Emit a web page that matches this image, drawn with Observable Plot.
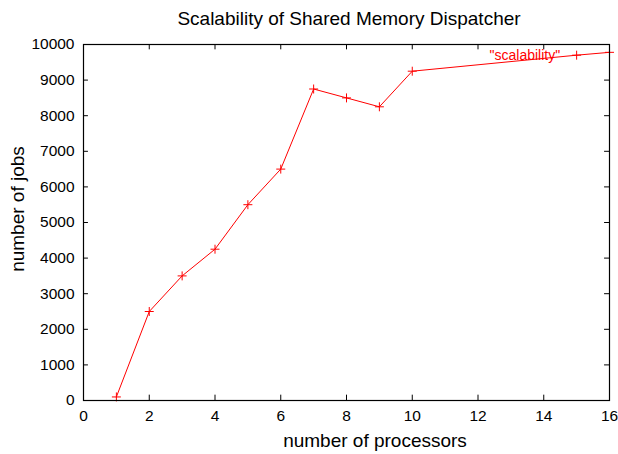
<!DOCTYPE html>
<html><head><meta charset="utf-8">
<script src="https://cdn.jsdelivr.net/npm/d3@7"></script>
<script src="https://cdn.jsdelivr.net/npm/@observablehq/plot@0.6"></script>
<style>
body{margin:0;background:#fff;}
#chart{position:relative;width:618px;height:454px;font-family:"Liberation Sans",Arial,sans-serif;}
</style>
</head><body><div id="chart"></div>
<script>
const processors = [1, 2, 3, 4, 5, 6, 7, 8, 9, 10, 15, 16];
const jobs = [100, 2500, 3500, 4250, 5500, 6500, 8750, 8500, 8250, 9250, 9700, 9780];
const xTicks = [0, 2, 4, 6, 8, 10, 12, 14, 16];
const yTicks = [0, 1000, 2000, 3000, 4000, 5000, 6000, 7000, 8000, 9000, 10000];
const title = "Scalability of Shared Memory Dispatcher";
const xLabel = "number of processors";
const yLabel = "number of jobs";
const seriesName = "\"scalability\"";

const data = processors.map((p, i) => ({p, j: jobs[i]}));
const red = "#ff0000";

const plot = Plot.plot({
  width: 618, height: 454,
  marginLeft: 83, marginRight: 9, marginTop: 44, marginBottom: 54,
  style: {fontFamily: "'Liberation Sans', Arial, sans-serif", background: "#fff"},
  x: {domain: [0, 16]},
  y: {domain: [0, 10000]},
  marks: [
    Plot.axisX({ticks: xTicks, tickSize: 0, tickPadding: 9, fontSize: 15.5, tickFormat: d => String(d), label: null, fill: "#000"}),
    Plot.axisY({ticks: yTicks, tickSize: 0, tickPadding: 9, fontSize: 15.5, tickFormat: d => String(d), label: null, fill: "#000"}),
    Plot.ruleX(xTicks.slice(1, -1), {x: d => d, y1: 0, y2: 150, stroke: "#000"}),
    Plot.ruleX(xTicks.slice(1, -1), {x: d => d, y1: 10000, y2: 9850, stroke: "#000"}),
    Plot.ruleY(yTicks.slice(1, -1), {y: d => d, x1: 0, x2: 0.15, stroke: "#000"}),
    Plot.ruleY(yTicks.slice(1, -1), {y: d => d, x1: 16, x2: 15.85, stroke: "#000"}),
    Plot.line(data, {x: "p", y: "j", stroke: red, strokeWidth: 1}),
    Plot.dot(data, {x: "p", y: "j", symbol: "plus", r: 3, stroke: red, strokeWidth: 1}),
    Plot.text([seriesName], {x: 14.5, y: 9680, text: d => d, textAnchor: "end", fill: red, fontSize: 14}),
    Plot.frame({stroke: "#000", strokeWidth: 1.2})
  ]
});
plot.style.position = "absolute";
plot.style.left = "0px";
plot.style.top = "0px";
document.getElementById("chart").appendChild(plot);

const svg = d3.select(plot);
svg.append("text").attr("transform", "translate(24,209) rotate(-90)")
  .attr("text-anchor", "middle")
  .attr("font-size", 19).attr("fill", "#000").text(yLabel);
svg.append("text").attr("x", 375).attr("y", 447)
  .attr("text-anchor", "middle")
  .attr("font-size", 19).attr("fill", "#000").text(xLabel);
svg.append("text").attr("x", 349).attr("y", 25)
  .attr("text-anchor", "middle")
  .attr("font-size", 19).attr("fill", "#000").text(title);
</script>
</body></html>
